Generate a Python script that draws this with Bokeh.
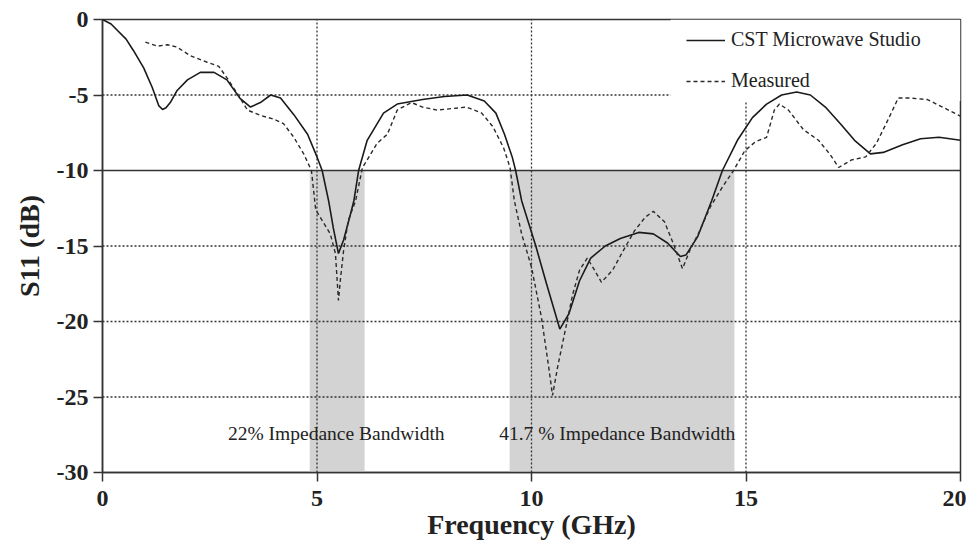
from bokeh.plotting import figure
from bokeh.models import Range1d, FixedTicker, Legend, LegendItem, Label
from bokeh.embed import file_html
from bokeh.resources import INLINE

# ---------------- data ----------------
x_ticks = [0, 5, 10, 15, 20]
y_ticks = [-30, -25, -20, -15, -10, -5, 0]
threshold_db = -10

freq_cst = [0, 0.2, 0.35, 0.55, 0.72, 0.96, 1.16, 1.31, 1.4, 1.48, 1.58, 1.74, 1.98, 2.28,
            2.6, 2.9, 3.2, 3.45, 3.68, 3.92, 4.15, 4.46, 4.78, 5.0, 5.12, 5.27, 5.38,
            5.5, 5.62, 5.78, 5.86, 5.97, 6.17, 6.55, 6.87, 7.46, 7.97, 8.5, 8.9, 9.17,
            9.37, 9.55, 9.63, 9.77, 10.1, 10.35, 10.66, 10.87, 11.12, 11.38, 11.72,
            12.07, 12.5, 12.84, 13.17, 13.47, 13.6, 13.87, 14.2, 14.45, 14.8, 15.15,
            15.48, 15.83, 16.18, 16.5, 16.85, 17.2, 17.53, 17.9, 18.2, 18.65, 19.07,
            19.5, 20.0]
s11_cst = [0, -0.3, -0.73, -1.3, -2.05, -3.2, -4.5, -5.7, -5.96, -5.85, -5.5, -4.7, -4.0,
           -3.5, -3.5, -4.0, -5.2, -5.8, -5.5, -5.0, -5.2, -6.3, -7.6, -9.1, -10.0,
           -12.0, -13.8, -15.5, -14.6, -12.9, -12.0, -10.0, -8.0, -6.2, -5.6, -5.3,
           -5.1, -5.0, -5.4, -6.2, -7.6, -9.1, -10.0, -12.0, -15.0, -17.5, -20.5,
           -19.5, -17.3, -15.8, -15.0, -14.5, -14.1, -14.2, -14.8, -15.7, -15.6, -14.4,
           -12.0, -10.0, -8.0, -6.5, -5.6, -5.0, -4.8, -5.0, -5.8, -6.9, -8.0, -8.9,
           -8.8, -8.3, -7.9, -7.8, -8.0]

freq_meas = [1.0, 1.28, 1.51, 1.74, 2.05, 2.44, 2.71, 2.91, 3.14, 3.38, 3.68, 3.99, 4.22,
             4.46, 4.69, 4.87, 4.97, 5.31, 5.43, 5.5, 5.55, 5.62, 5.73, 5.9, 6.06, 6.17,
             6.4, 6.64, 6.87, 7.2, 7.46, 7.8, 8.14, 8.49, 8.84, 9.1, 9.35, 9.5, 9.6, 9.77,
             10.0, 10.23, 10.4, 10.49, 10.61, 10.8, 10.96, 11.12, 11.3, 11.47, 11.63,
             11.89, 12.14, 12.4, 12.65, 12.84, 13.1, 13.3, 13.52, 13.69, 13.92, 14.17,
             14.45, 14.71, 14.97, 15.22, 15.48, 15.66, 15.78, 15.99, 16.34, 16.69, 16.95,
             17.16, 17.46, 17.79, 18.04, 18.3, 18.55, 18.81, 19.23, 19.58, 20.0]
s11_meas = [-1.5, -1.77, -1.67, -1.83, -2.4, -2.83, -3.1, -3.9, -4.9, -6.0, -6.35, -6.6,
            -6.9, -7.8, -8.9, -10.0, -12.6, -14.2, -15.5, -18.6, -17.1, -15.3, -13.3,
            -12.0, -9.8, -9.3, -8.2, -7.6, -6.0, -5.5, -5.8, -6.0, -5.9, -5.8, -6.2,
            -7.1, -8.5, -9.8, -12.0, -14.2, -16.4, -19.7, -23.0, -24.9, -23.0, -20.4,
            -18.2, -16.6, -15.8, -16.6, -17.4, -16.6, -15.3, -14.0, -13.1, -12.7, -13.4,
            -14.8, -16.5, -15.3, -14.0, -12.4, -11.1, -10.0, -8.7, -8.1, -7.8, -6.0,
            -5.6, -6.0, -7.3, -8.0, -8.9, -9.8, -9.3, -9.1, -8.2, -6.7, -5.2, -5.2,
            -5.3, -5.8, -6.4]

band_start = [4.83, 9.49]
band_end = [6.11, 14.73]
band_labels = ["22% Impedance Bandwidth", "41.7 % Impedance Bandwidth"]
series_names = ["CST Microwave Studio", "Measured"]

assert len(freq_cst) == len(s11_cst)
assert len(freq_meas) == len(s11_meas)

# ---------------- figure ----------------
SERIF = "Liberation Serif"
INK = "#222222"

p = figure(frame_width=858, frame_height=453, output_backend="svg",
           toolbar_location=None, x_range=Range1d(x_ticks[0], x_ticks[-1]),
           y_range=Range1d(y_ticks[0], y_ticks[-1]),
           min_border_left=102, min_border_top=19, min_border_right=6,
           min_border_bottom=70)
p.background_fill_color = "white"
p.border_fill_color = "white"
p.outline_line_color = "#333333"
p.outline_line_width = 1.5
p.grid.visible = False

for ax in (p.xaxis[0], p.yaxis[0]):
    ax.axis_line_color = "#333333"
    ax.axis_line_width = 1.5
    ax.major_tick_line_color = "#333333"
    ax.major_tick_line_width = 1.5
    ax.major_tick_out = 9
    ax.major_tick_in = 0
    ax.minor_tick_line_color = None
    ax.major_label_text_font = SERIF
    ax.major_label_text_font_style = "bold"
    ax.major_label_text_font_size = "24px"
    ax.major_label_text_color = INK
    ax.axis_label_text_font = SERIF
    ax.axis_label_text_font_style = "bold"
    ax.axis_label_text_font_size = "28px"
    ax.axis_label_text_color = INK

p.xaxis[0].ticker = FixedTicker(ticks=x_ticks)
p.yaxis[0].ticker = FixedTicker(ticks=y_ticks)
p.xaxis[0].major_label_overrides = {t: str(t) for t in x_ticks}
p.yaxis[0].major_label_overrides = {t: str(t) for t in y_ticks}
p.xaxis[0].axis_label = "Frequency (GHz)"
p.yaxis[0].axis_label = "S11 (dB)"
p.xaxis[0].major_label_standoff = 9
p.xaxis[0].axis_label_standoff = 0
p.yaxis[0].major_label_standoff = 5
p.yaxis[0].axis_label_standoff = 9

# shaded impedance bands
p.quad(left=band_start, right=band_end, bottom=y_ticks[0], top=threshold_db,
       fill_color="#d3d3d3", line_color=None)

# grid lines (dotted), drawn from tick arrays
inner_x = x_ticks[1:-1]
inner_y = [t for t in y_ticks[1:-1] if t != threshold_db]
p.segment(x0=inner_x, x1=inner_x, y0=[y_ticks[0]] * len(inner_x),
          y1=[y_ticks[-1]] * len(inner_x), line_color="#333333", line_width=1.3,
          line_dash="2 2")
p.segment(x0=[x_ticks[0]] * len(inner_y), x1=[x_ticks[-1]] * len(inner_y),
          y0=inner_y, y1=inner_y, line_color="#333333", line_width=1.3,
          line_dash="2 2")
# -10 dB reference line (solid)
p.segment(x0=[x_ticks[0]], x1=[x_ticks[-1]], y0=[threshold_db], y1=[threshold_db],
          line_color="#333333", line_width=1.5)

# white legend area masking the grid
p.quad(left=13.24, right=x_ticks[-1], top=y_ticks[-1], bottom=-5.4,
       fill_color="white", line_color=None)

r_cst = p.line(freq_cst, s11_cst, line_color="#1a1a1a", line_width=1.6)
r_meas = p.line(freq_meas, s11_meas, line_color="#2a2a2a", line_width=1.4,
                line_dash="4 3")

legend = Legend(items=[LegendItem(label=series_names[0], renderers=[r_cst]),
                       LegendItem(label=series_names[1], renderers=[r_meas])],
                location=(584, 380), orientation="vertical",
                background_fill_alpha=0, border_line_color=None,
                padding=0, margin=0, spacing=18, glyph_width=39,
                glyph_height=22, label_height=22, label_standoff=6,
                label_text_font=SERIF, label_text_font_size="20px",
                label_text_color=INK)
p.add_layout(legend)

for cx, txt in zip([5.45, 12.0], band_labels):
    p.add_layout(Label(x=cx, y=-27.4, text=txt, text_align="center",
                       text_baseline="middle", text_font=SERIF,
                       text_font_size="19.5px", text_color=INK))

open("out.html", "w").write(file_html(p, INLINE))
